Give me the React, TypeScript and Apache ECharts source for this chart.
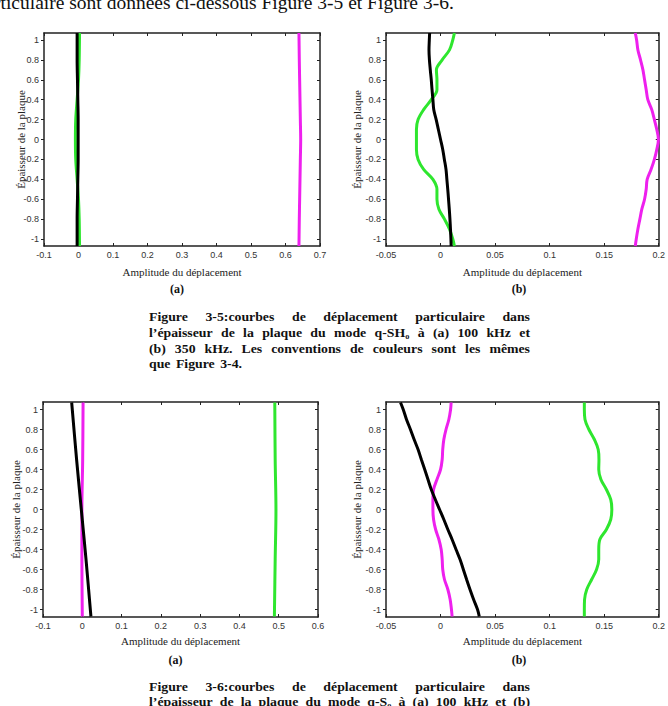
import React, { useEffect, useRef } from "react";
import * as echarts from "echarts";

// ---------- data ----------
const yTicks = [1, 0.8, 0.6, 0.4, 0.2, 0, -0.2, -0.4, -0.6, -0.8, -1];

// Figure 3-5 (a) : q-SH0 100 kHz
const ys35a = [1.07, 0.8, 0.6, 0.4, 0.2, 0, -0.2, -0.4, -0.6, -0.8, -1.07];
const black35a = [-0.004, -0.004, -0.003, -0.002, -0.001, -0.001, -0.001, -0.002, -0.003, -0.004, -0.004];
const green35a = [0.003, 0.002, 0.0, -0.004, -0.008, -0.009, -0.008, -0.004, 0.0, 0.002, 0.003];
const magenta35a = [0.639, 0.64, 0.641, 0.642, 0.643, 0.644, 0.643, 0.642, 0.641, 0.64, 0.639];

// Figure 3-5 (b) : q-SH0 350 kHz
const ys35b = [1.07, 1.0, 0.9, 0.8, 0.7, 0.6, 0.5, 0.4, 0.3, 0.2, 0.1, 0, -0.1, -0.2, -0.3, -0.4, -0.5, -0.6, -0.7, -0.8, -0.9, -1.0, -1.07];
const black35b = [-0.01, -0.0103, -0.0106, -0.0102, -0.0094, -0.0085, -0.0078, -0.007, -0.0062, -0.004, -0.002, 0.0, 0.002, 0.0035, 0.005, 0.0058, 0.0066, 0.0073, 0.008, 0.0086, 0.0091, 0.0095, 0.0097];
const green35b = [0.0127, 0.0112, 0.0082, 0.0015, -0.0038, -0.0033, -0.0033, -0.0085, -0.0155, -0.0206, -0.0221, -0.0221, -0.0221, -0.0206, -0.0155, -0.007, -0.0033, -0.0033, -0.0015, 0.0036, 0.0082, 0.0112, 0.0127];
const magenta35b = [0.1785, 0.1797, 0.1809, 0.1833, 0.1855, 0.187, 0.1885, 0.19, 0.1936, 0.196, 0.1982, 0.1997, 0.1982, 0.196, 0.193, 0.1894, 0.1885, 0.187, 0.1845, 0.1827, 0.1809, 0.1794, 0.1785];

// Figure 3-6 (a) : q-S0 100 kHz
const ys36a = [1.07, 0.5, 0, -0.5, -1.07];
const black36a = [-0.027, -0.0145, -0.0025, 0.0095, 0.022];
const green36a = [0.49, 0.491, 0.493, 0.491, 0.489];
const magenta36a = [0.002, 0.001, -0.001, -0.001, 0.0];

// Figure 3-6 (b) : q-S0 350 kHz
const ys36b = [1.07, 1.0, 0.9, 0.8, 0.7, 0.6, 0.5, 0.4, 0.3, 0.2, 0.1, 0, -0.1, -0.2, -0.3, -0.4, -0.5, -0.6, -0.7, -0.8, -0.9, -1.0, -1.07];
const black36b = [-0.0367, -0.0342, -0.0312, -0.0276, -0.0242, -0.0206, -0.0176, -0.0145, -0.0115, -0.0085, -0.0048, -0.0009, 0.003, 0.0067, 0.0106, 0.0142, 0.0179, 0.0209, 0.0239, 0.027, 0.0303, 0.0339, 0.0355];
const green36b = [0.1318, 0.1318, 0.1324, 0.136, 0.141, 0.1445, 0.1452, 0.145, 0.147, 0.152, 0.156, 0.157, 0.156, 0.152, 0.146, 0.145, 0.145, 0.143, 0.1385, 0.134, 0.132, 0.1318, 0.1318];
const magenta36b = [0.0097, 0.0092, 0.0076, 0.005, 0.003, 0.002, 0.0015, 0.0, -0.0033, -0.0064, -0.007, -0.007, -0.0064, -0.0045, -0.0015, 0.0006, 0.0015, 0.002, 0.0036, 0.0067, 0.0088, 0.01, 0.0106];

// ---------- texts ----------
const topText = "rticulaire sont données ci-dessous Figure 3-5 et Figure 3-6.";
const caption35 = [
  "Figure 3-5:courbes de déplacement particulaire dans",
  "l’épaisseur de la plaque du mode q-SH₀ à (a) 100 kHz et",
  "(b) 350 kHz. Les conventions de couleurs sont les mêmes",
  "que Figure 3-4.",
];
const caption36 = [
  "Figure 3-6:courbes de déplacement particulaire dans",
  "l’épaisseur de la plaque du mode q-S₀ à (a) 100 kHz et (b)",
];
const xTitle = "Amplitude du déplacement";
const yTitle = "Épaisseur de la plaque";

const BLACK = "#000000";
const GREEN = "#2ee62e";
const MAGENTA = "#ee20ee";
const AXIS = "#222222";
const SANS = "'Liberation Sans', Arial, sans-serif";
const SERIF = "'Liberation Serif', 'Times New Roman', serif";

const panels = [
  { grid: { left: 44, top: 33, width: 276, height: 213 }, xMin: -0.1, xMax: 0.7, xInt: 0.1, yLim: 1.07, ys: ys35a, black: black35a, green: green35a, magenta: magenta35a, tag: "(a)", yGap: 18, xGap: 20 },
  { grid: { left: 386, top: 33, width: 276, height: 213 }, xMin: -0.05, xMax: 0.2, xInt: 0.05, yLim: 1.07, ys: ys35b, black: black35b, green: green35b, magenta: magenta35b, tag: "(b)", yGap: 24, xGap: 20 },
  { grid: { left: 43, top: 402, width: 275, height: 215 }, xMin: -0.1, xMax: 0.6, xInt: 0.1, yLim: 1.075, ys: ys36a, black: black36a, green: green36a, magenta: magenta36a, tag: "(a)", yGap: 22, xGap: 18 },
  { grid: { left: 386, top: 402, width: 276, height: 215 }, xMin: -0.05, xMax: 0.2, xInt: 0.05, yLim: 1.075, ys: ys36b, black: black36b, green: green36b, magenta: magenta36b, tag: "(b)", yGap: 24, xGap: 18 },
];

const fmt = (v: number) => String(parseFloat(Number(v).toFixed(3)));

function measure(text: string, font: string): number {
  const c = document.createElement("canvas").getContext("2d");
  if (!c) return text.length * 6;
  c.font = font;
  return c.measureText(text).width;
}

const CAP_STRETCH = 1.15;

function captionLine(line: string, x0: number, x1: number, y: number, justify: boolean, extraGap = 0) {
  const fontSize = 12;
  const cssFont = `bold ${fontSize}px "Liberation Serif"`;
  const words = line.split(" ");
  const widths = words.map((w) => measure(w, cssFont) * CAP_STRETCH);
  const total = widths.reduce((a, b) => a + b, 0);
  const gap = justify && words.length > 1 ? (x1 - x0 - total) / (words.length - 1) : measure(" ", cssFont) * CAP_STRETCH + extraGap;
  let x = x0;
  return words.map((w, i) => {
    const el = {
      type: "text",
      x,
      y,
      scaleX: CAP_STRETCH,
      style: { text: w, fill: "#111", fontSize, fontWeight: "bold", fontFamily: SERIF, align: "left", verticalAlign: "middle" },
    };
    x += widths[i] + gap;
    return el;
  });
}

export default function App() {
  const ref = useRef<HTMLDivElement>(null);

  useEffect(() => {
    if (!ref.current) return;
    const chart = echarts.init(ref.current, undefined, { renderer: "svg" });

    const grids: any[] = [];
    const xAxes: any[] = [];
    const yAxes: any[] = [];
    const series: any[] = [];
    const graphics: any[] = [];

    panels.forEach((p, i) => {
      grids.push({ ...p.grid, containLabel: false });
      xAxes.push({
        gridIndex: i, type: "value", position: "bottom", min: p.xMin, max: p.xMax, interval: p.xInt,
        axisLine: { show: true, onZero: false, lineStyle: { color: AXIS, width: 1.5 } },
        axisTick: { show: true, inside: true, length: 3, lineStyle: { color: AXIS } },
        axisLabel: { show: true, margin: 4, fontSize: 9, color: "#333", fontFamily: SANS, formatter: fmt },
        splitLine: { show: false },
        name: xTitle, nameLocation: "middle", nameGap: p.xGap, nameMoveOverlap: false,
        nameTextStyle: { fontFamily: SERIF, fontSize: 11, color: "#222" },
      });
      xAxes.push({
        gridIndex: i, type: "value", position: "top", min: p.xMin, max: p.xMax, interval: p.xInt,
        axisLine: { show: true, onZero: false, lineStyle: { color: AXIS, width: 1.5 } },
        axisTick: { show: true, inside: true, length: 3, lineStyle: { color: AXIS } },
        axisLabel: { show: false },
        splitLine: { show: false },
      });
      yAxes.push({
        gridIndex: i, type: "value", position: "left", min: -p.yLim, max: p.yLim,
        axisLine: { show: true, onZero: false, lineStyle: { color: AXIS, width: 1.5 } },
        axisTick: { show: true, inside: false, length: 3, customValues: yTicks, lineStyle: { color: AXIS } },
        axisLabel: { show: true, customValues: yTicks, margin: 5, fontSize: 9, color: "#333", fontFamily: SANS, formatter: fmt },
        splitLine: { show: false },
        name: yTitle, nameLocation: "middle", nameRotate: 90, nameGap: p.yGap, nameMoveOverlap: false,
        nameTextStyle: { fontFamily: SERIF, fontSize: 11, color: "#222" },
      });
      yAxes.push({
        gridIndex: i, type: "value", position: "right", min: -p.yLim, max: p.yLim,
        axisLine: { show: true, onZero: false, lineStyle: { color: AXIS, width: 1.5 } },
        axisTick: { show: true, inside: true, length: 3, customValues: yTicks, lineStyle: { color: AXIS } },
        axisLabel: { show: false },
        splitLine: { show: false },
      });
      const mk = (xs: number[], color: string) => ({
        type: "line",
        xAxisIndex: i * 2,
        yAxisIndex: i * 2,
        data: p.ys.map((y, k) => [xs[k], y]),
        showSymbol: false,
        symbol: "none",
        smooth: 0.35,
        lineStyle: { color, width: 3 },
        itemStyle: { color },
        z: 3,
      });
      series.push(mk(p.magenta, MAGENTA), mk(p.green, GREEN), mk(p.black, BLACK));
      graphics.push({
        type: "text",
        x: p.grid.left + p.grid.width / 2 - 5,
        y: p.grid.top + p.grid.height + 43,
        style: { text: p.tag, fill: "#111", fontSize: 12, fontWeight: "bold", fontFamily: SERIF, align: "center", verticalAlign: "middle" },
      });
    });

    graphics.push({
      type: "text",
      x: -6,
      y: 2.5,
      style: { text: topText, fill: "#111", fontSize: 19.5, fontFamily: SERIF, align: "left", verticalAlign: "middle" },
    });

    const capYs35 = [317, 333, 349, 364];
    caption35.forEach((line, k) => {
      graphics.push(...captionLine(line, 149, 530, capYs35[k], k < caption35.length - 1, 2));
    });
    const capYs36 = [687, 702];
    caption36.forEach((line, k) => {
      graphics.push(...captionLine(line, 149, 530, capYs36[k], true));
    });

    chart.setOption({
      animation: false,
      backgroundColor: "#ffffff",
      grid: grids,
      xAxis: xAxes,
      yAxis: yAxes,
      series,
      graphic: { elements: graphics },
    });

    return () => chart.dispose();
  }, []);

  return (
    <div
      ref={ref}
      style={{ position: "absolute", left: 0, top: 0, width: 668, height: 706 }}
    />
  );
}
